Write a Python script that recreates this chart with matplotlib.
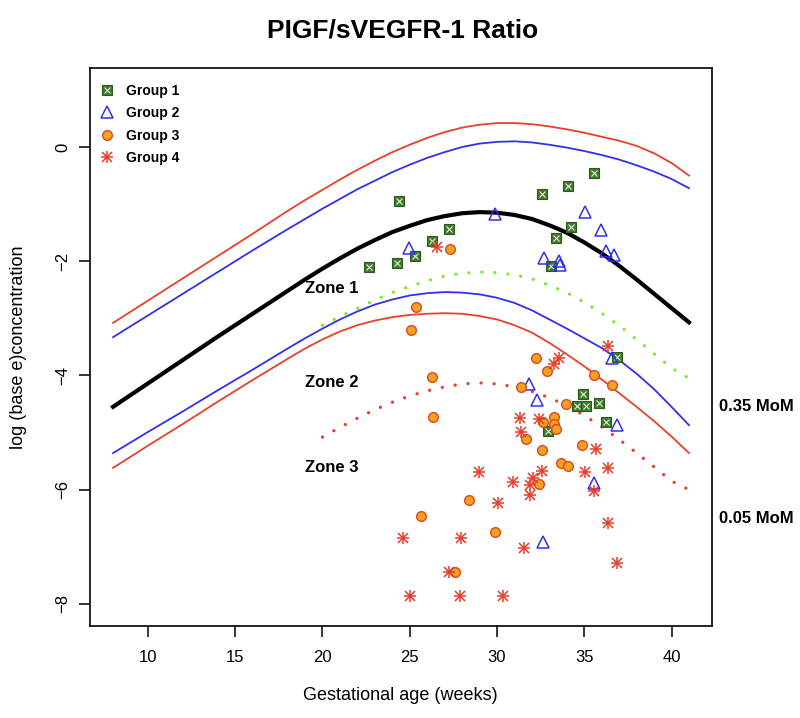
import matplotlib
matplotlib.use("Agg")
import matplotlib.pyplot as plt
import matplotlib.transforms as mtransforms
from matplotlib.lines import Line2D

plt.rcParams['font.family'] = ['Liberation Sans', 'DejaVu Sans']

# reference curves (log concentration by gestational week)
WEEKS = [8, 10, 12, 14, 16, 18, 19, 20, 21, 22, 23, 24, 25, 26, 27, 28, 29, 30,
         31, 32, 33, 34, 35, 36, 37, 38, 39, 40, 41]
MEDIAN = [-4.55, -4.14, -3.73, -3.32, -2.92, -2.52, -2.32, -2.13, -1.95, -1.78,
          -1.63, -1.49, -1.38, -1.28, -1.21, -1.16, -1.14, -1.15, -1.19, -1.26,
          -1.37, -1.50, -1.67, -1.86, -2.08, -2.32, -2.57, -2.82, -3.07]
UPPER_RED = [-3.08, -2.69, -2.30, -1.91, -1.52, -1.12, -0.93, -0.75, -0.57, -0.40,
             -0.24, -0.09, 0.04, 0.16, 0.26, 0.34, 0.39, 0.42, 0.42, 0.40,
             0.36, 0.31, 0.25, 0.18, 0.11, 0.02, -0.11, -0.28, -0.50]
UPPER_BLUE = [-3.33, -2.95, -2.57, -2.19, -1.81, -1.44, -1.26, -1.08, -0.91, -0.74,
              -0.59, -0.44, -0.31, -0.19, -0.09, 0.00, 0.06, 0.09, 0.10, 0.08,
              0.04, -0.01, -0.07, -0.14, -0.22, -0.32, -0.43, -0.56, -0.72]
LOWER_BLUE = [-5.36, -4.99, -4.63, -4.26, -3.90, -3.53, -3.35, -3.18, -3.02, -2.88,
              -2.76, -2.67, -2.60, -2.56, -2.54, -2.55, -2.58, -2.64, -2.73, -2.86,
              -3.02, -3.18, -3.35, -3.52, -3.73, -3.97, -4.24, -4.55, -4.87]
LOWER_RED = [-5.62, -5.23, -4.85, -4.46, -4.08, -3.71, -3.53, -3.37, -3.23, -3.12,
             -3.04, -2.98, -2.94, -2.92, -2.91, -2.92, -2.96, -3.02, -3.12, -3.25,
             -3.43, -3.63, -3.84, -4.07, -4.31, -4.55, -4.80, -5.07, -5.36]

# MoM cut-off curves
DOT_WEEKS = [20, 21, 22, 23, 24, 25, 26, 27, 28, 29, 30, 31, 32, 33, 34, 35, 36,
             37, 38, 39, 40, 41]
MOM_035 = [-3.12, -2.97, -2.83, -2.68, -2.55, -2.44, -2.34, -2.26, -2.21, -2.19,
           -2.20, -2.24, -2.31, -2.42, -2.55, -2.72, -2.91, -3.13, -3.37, -3.62,
           -3.87, -4.05]
MOM_005 = [-5.08, -4.91, -4.75, -4.60, -4.47, -4.36, -4.27, -4.20, -4.15, -4.13,
           -4.15, -4.20, -4.28, -4.39, -4.53, -4.70, -4.90, -5.12, -5.36, -5.60,
           -5.85, -6.00]

# patient groups
G1_WEEKS = [24.38, 27.27, 26.29, 25.29, 24.26, 22.69, 32.57, 34.09, 35.54, 34.26,
            33.37, 33.09, 36.86, 34.95, 34.61, 35.09, 35.86, 36.26, 32.95]
G1_VALUES = [-0.95, -1.44, -1.64, -1.90, -2.04, -2.10, -0.82, -0.69, -0.45, -1.40,
             -1.60, -2.08, -3.68, -4.33, -4.53, -4.54, -4.48, -4.81, -4.98]

G2_WEEKS = [29.90, 24.97, 35.05, 35.96, 32.70, 33.56, 33.62, 36.26, 36.70, 36.57,
            31.85, 32.29, 36.86, 35.58, 32.66]
G2_VALUES = [-1.18, -1.76, -1.14, -1.45, -1.94, -2.00, -2.07, -1.82, -1.89, -3.70,
             -4.15, -4.43, -4.87, -5.88, -6.91]

G3_WEEKS = [27.31, 25.37, 25.10, 32.26, 32.89, 26.29, 35.56, 36.57, 31.39, 33.98,
            26.36, 33.27, 32.61, 33.27, 33.37, 31.67, 34.87, 32.57, 33.66, 34.09,
            32.38, 28.38, 25.67, 29.89, 27.58]
G3_VALUES = [-1.79, -2.81, -3.20, -3.70, -3.92, -4.02, -3.99, -4.17, -4.21, -4.50,
             -4.73, -4.73, -4.82, -4.85, -4.94, -5.11, -5.22, -5.31, -5.53, -5.58,
             -5.90, -6.19, -6.46, -6.74, -7.44]

G4_WEEKS = [26.55, 36.34, 33.56, 33.27, 31.31, 32.38, 31.37, 35.66, 36.36, 35.07,
            32.57, 32.04, 31.89, 31.89, 30.89, 28.99, 30.06, 35.58, 36.36, 24.61,
            27.96, 31.56, 36.87, 27.27, 24.99, 27.88, 30.36]
G4_VALUES = [-1.75, -3.48, -3.69, -3.80, -4.75, -4.76, -4.99, -5.29, -5.62, -5.70,
             -5.67, -5.79, -5.92, -6.09, -5.86, -5.70, -6.23, -6.02, -6.59, -6.84,
             -6.84, -7.03, -7.29, -7.44, -7.86, -7.86, -7.86]

RED = "#e8402a"
BLUE = "#3030ee"
GREEN_DOT = "#7cea2c"
SQ_FACE = "#3f7a2a"
SQ_EDGE = "#2a5a1c"
ORANGE = "#f5a021"
ORANGE_EDGE = "#dc4a1e"
STAR = "#e63a28"

fig = plt.figure(figsize=(8, 7.18), dpi=100)
ax = fig.add_axes([0.1125, 0.128, 0.7775, 0.777])

ax.plot(WEEKS, UPPER_RED, color=RED, lw=1.3)
ax.plot(WEEKS, UPPER_BLUE, color=BLUE, lw=1.3)
ax.plot(WEEKS, MEDIAN, color="black", lw=3)
ax.plot(WEEKS, LOWER_BLUE, color=BLUE, lw=1.3)
ax.plot(WEEKS, LOWER_RED, color=RED, lw=1.3)
ax.plot(DOT_WEEKS, MOM_035, color=GREEN_DOT, lw=2.4,
        linestyle=(0, (0.01, 3.9)), dash_capstyle="round")
ax.plot(DOT_WEEKS, MOM_005, color=RED, lw=2.4,
        linestyle=(0, (0.01, 3.9)), dash_capstyle="round")

# group markers
ax.plot(G1_WEEKS, G1_VALUES, ls="none", marker="s", ms=6.5, mfc=SQ_FACE, mec=SQ_EDGE, mew=0.8)
ax.plot(G1_WEEKS, G1_VALUES, ls="none", marker="x", ms=4, mec="#e8f0e0", mew=0.8)
ax.plot(G2_WEEKS, G2_VALUES, ls="none", marker="^", ms=9, mfc="none", mec=BLUE, mew=1.1)
ax.plot(G3_WEEKS, G3_VALUES, ls="none", marker="o", ms=7, mfc=ORANGE, mec=ORANGE_EDGE, mew=1)
ax.plot(G4_WEEKS, G4_VALUES, ls="none", marker="+", ms=9, mec=STAR, mew=1.1)
ax.plot(G4_WEEKS, G4_VALUES, ls="none", marker="x", ms=6.5, mec=STAR, mew=1.1)

ax.set_xlim(6.68, 42.32)
ax.set_ylim(-8.39, 1.38)
ax.set_xticks([10, 15, 20, 25, 30, 35, 40])
ax.set_yticks([-8, -6, -4, -2, 0])
ax.tick_params(axis="both", direction="out", length=8, width=1.1, labelsize=12)
ax.tick_params(axis="x", pad=9)
ax.tick_params(axis="y", pad=6)
for lab in ax.get_yticklabels():
    lab.set_rotation(90)
    lab.set_va("center")
for sp in ax.spines.values():
    sp.set_linewidth(1.2)

# zone labels
for y, txt in [(-2.47, "Zone 1"), (-4.13, "Zone 2"), (-5.62, "Zone 3")]:
    ax.text(19.0, y, txt, fontsize=12, fontweight="bold", va="center", ha="left")

trans = mtransforms.blended_transform_factory(ax.transAxes, ax.transData)
ax.text(1.011, -4.55, "0.35 MoM", transform=trans, fontsize=12, fontweight="bold",
        va="center", ha="left", clip_on=False)
ax.text(1.011, -6.50, "0.05 MoM", transform=trans, fontsize=12, fontweight="bold",
        va="center", ha="left", clip_on=False)

# legend
h1 = (Line2D([], [], ls="none", marker="s", ms=6.5, mfc=SQ_FACE, mec=SQ_EDGE, mew=0.8),
      Line2D([], [], ls="none", marker="x", ms=4, mec="#e8f0e0", mew=0.8))
h2 = Line2D([], [], ls="none", marker="^", ms=9, mfc="none", mec=BLUE, mew=1.1)
h3 = Line2D([], [], ls="none", marker="o", ms=7, mfc=ORANGE, mec=ORANGE_EDGE, mew=1)
h4 = (Line2D([], [], ls="none", marker="+", ms=9, mec=STAR, mew=1.1),
      Line2D([], [], ls="none", marker="x", ms=6.5, mec=STAR, mew=1.1))
leg = ax.legend([h1, h2, h3, h4], ["Group 1", "Group 2", "Group 3", "Group 4"],
                loc="upper left", bbox_to_anchor=(0.0, 0.99), frameon=False,
                prop={"weight": "bold", "size": 10}, handlelength=1.0,
                handletextpad=0.9, labelspacing=0.62, borderaxespad=0.3)

fig.text(0.503, 0.958, "PIGF/sVEGFR-1 Ratio", fontsize=19, fontweight="bold",
         ha="center", va="center")
fig.text(0.501, 0.032, "Gestational age (weeks)", fontsize=13, ha="center", va="center")
fig.text(0.023, 0.517, "log (base e)concentration", fontsize=13, rotation=90,
         ha="center", va="center")

fig.savefig("out.png", dpi=100)
